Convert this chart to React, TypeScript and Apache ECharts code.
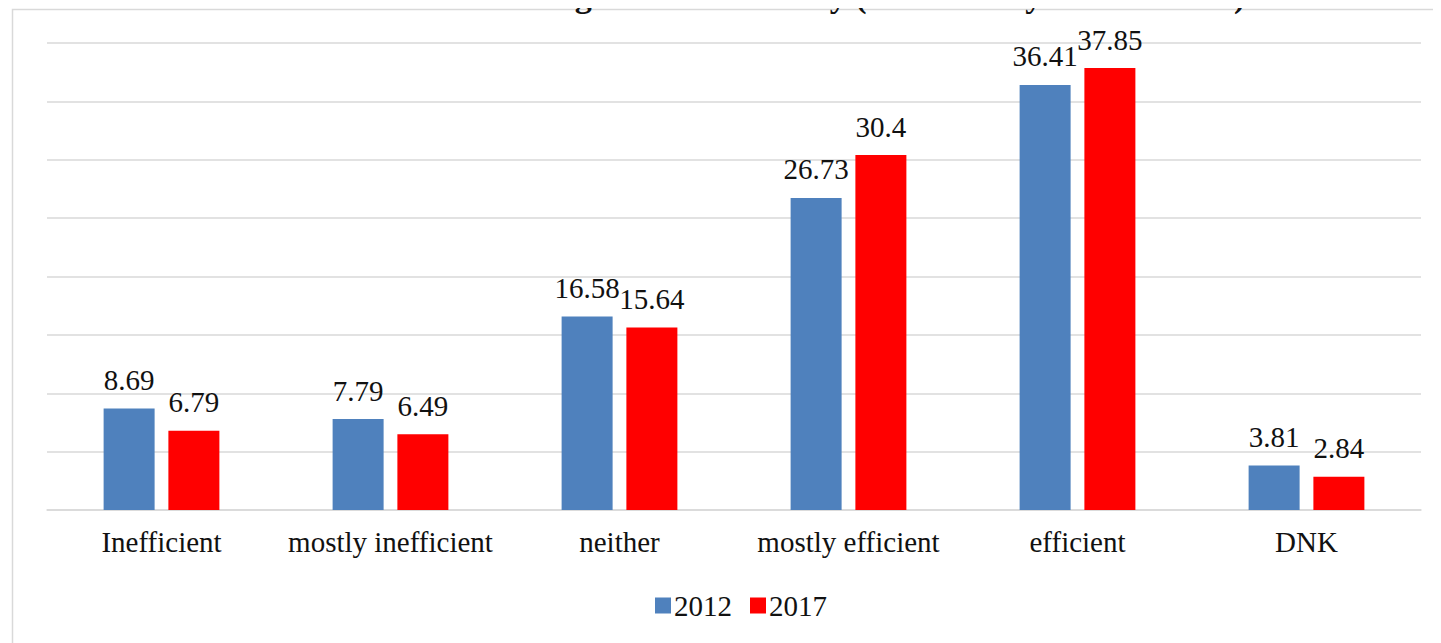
import React, { useEffect, useRef } from "react";
import * as echarts from "echarts";

const categories = [
  "Inefficient",
  "mostly inefficient",
  "neither",
  "mostly efficient",
  "efficient",
  "DNK",
];
const values2012 = [8.69, 7.79, 16.58, 26.73, 36.41, 3.81];
const values2017 = [6.79, 6.49, 15.64, 30.4, 37.85, 2.84];
const seriesNames = ["2012", "2017"];
const titleText = "more effective in curbing shadow economy (% of surveyed businesses)";

const FONT = "Liberation Serif";

export default function App() {
  const ref = useRef<HTMLDivElement>(null);

  useEffect(() => {
    if (!ref.current) return;
    const chart = echarts.init(ref.current, undefined, { renderer: "svg" });
    const label = {
      show: true,
      position: "top" as const,
      distance: 14,
      fontFamily: FONT,
      fontSize: 29,
      color: "#111",
    };
    chart.setOption({
      animation: false,
      backgroundColor: "#ffffff",
      textStyle: { fontFamily: FONT },
      graphic: [
        {
          type: "rect",
          shape: { x: 12.5, y: 9.5, width: 1450, height: 700 },
          style: { fill: "none", stroke: "#d9d9d9", lineWidth: 1.5 },
          z: 0,
        },
        {
          type: "text",
          x: 737,
          y: 12,
          style: {
            text: titleText,
            fontFamily: FONT,
            fontSize: 34,
            fontWeight: "bold",
            fill: "#111",
            align: "center",
            verticalAlign: "bottom",
          },
          z: 1,
        },
      ],
      legend: {
        data: seriesNames,
        left: 650,
        top: 586,
        itemWidth: 16,
        itemHeight: 16,
        itemGap: 18,
        icon: "rect",
        textStyle: { fontFamily: FONT, fontSize: 29, color: "#111", padding: [0, 0, 0, -2] },
      },
      grid: { left: 47, right: 20, top: 43, bottom: 133, containLabel: false },
      xAxis: {
        type: "category",
        data: categories,
        axisTick: { show: false },
        axisLine: { lineStyle: { color: "#d9d9d9", width: 1.5 } },
        axisLabel: { fontFamily: FONT, fontSize: 29, color: "#111", margin: 17, interval: 0 },
      },
      yAxis: {
        type: "value",
        min: 0,
        max: 40,
        interval: 5,
        axisLabel: { show: false },
        axisLine: { show: false },
        axisTick: { show: false },
        splitLine: { lineStyle: { color: "#d9d9d9", width: 1.5 } },
      },
      series: [
        {
          name: seriesNames[0],
          type: "bar",
          data: values2012,
          barWidth: 51,
          barGap: "27%",
          itemStyle: { color: "#4F81BD" },
          label,
        },
        {
          name: seriesNames[1],
          type: "bar",
          data: values2017,
          barWidth: 51,
          itemStyle: { color: "#FF0000" },
          label,
        },
      ],
    });
    return () => chart.dispose();
  }, []);

  return (
    <div
      ref={ref}
      style={{ width: 1441, height: 643, marginTop: -8, marginLeft: -8 }}
    />
  );
}
